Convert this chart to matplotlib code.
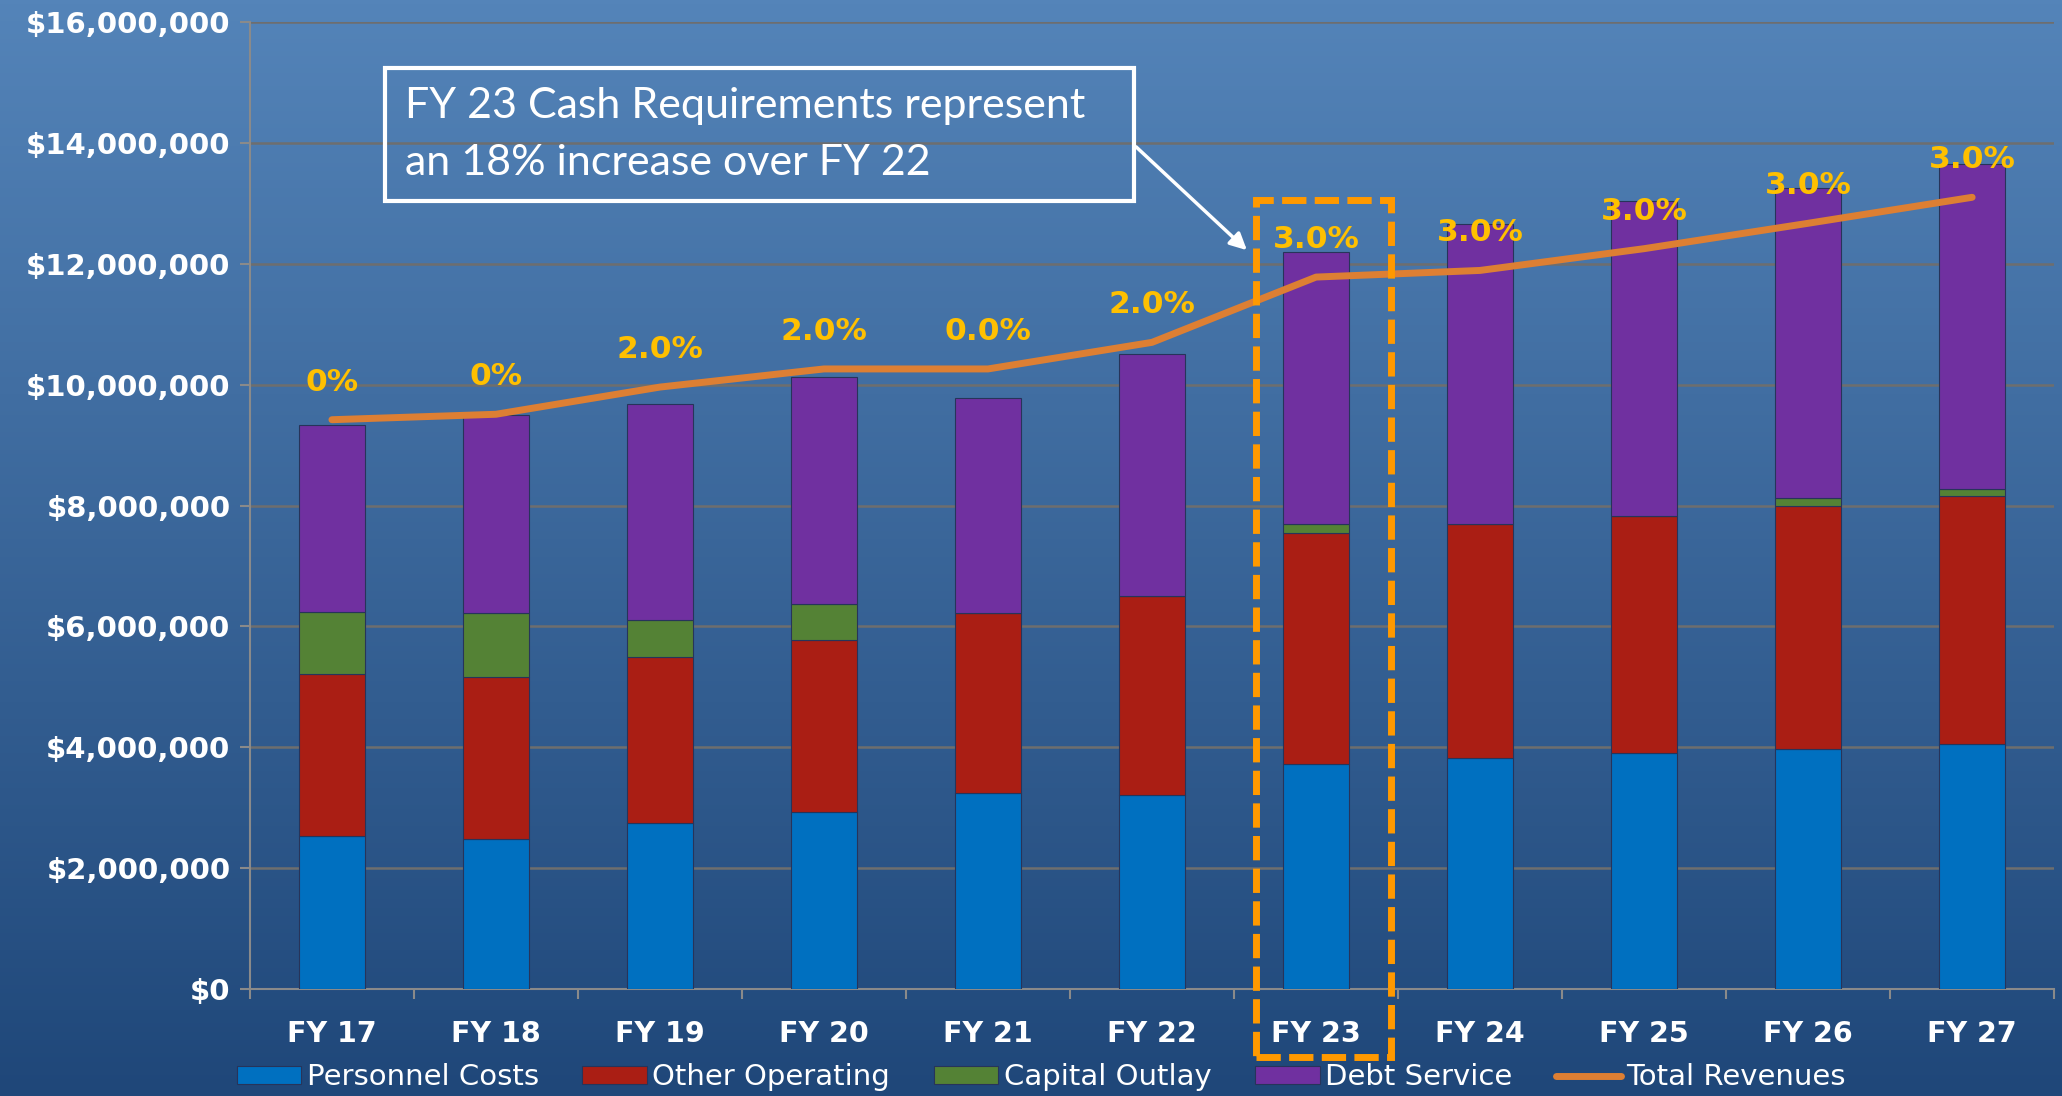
import matplotlib.pyplot as plt
import numpy as np
from matplotlib.patches import Rectangle
from matplotlib.ticker import FuncFormatter, MultipleLocator

# Data
years = ['FY 17', 'FY 18', 'FY 19', 'FY 20', 'FY 21', 'FY 22',
         'FY 23', 'FY 24', 'FY 25', 'FY 26', 'FY 27']
personnel = [2.53, 2.48, 2.74, 2.93, 3.25, 3.21, 3.73, 3.82, 3.91, 3.97, 4.05]
other_op = [2.69, 2.68, 2.76, 2.85, 2.97, 3.30, 3.81, 3.87, 3.92, 4.03, 4.10]
capital = [1.02, 1.06, 0.61, 0.59, 0.0, 0.0, 0.15, 0.0, 0.0, 0.13, 0.13]
debt = [3.09, 3.28, 3.57, 3.75, 3.56, 4.00, 4.50, 4.96, 5.21, 5.12, 5.37]
revenues = [9.42, 9.51, 9.96, 10.26, 10.26, 10.70, 11.78, 11.89, 12.25, 12.67, 13.10]
pct_labels = ['0%', '0%', '2.0%', '2.0%', '0.0%', '2.0%',
              '3.0%', '3.0%', '3.0%', '3.0%', '3.0%']

scale = 1e6
personnel = np.array(personnel) * scale
other_op = np.array(other_op) * scale
capital = np.array(capital) * scale
debt = np.array(debt) * scale
revenues = np.array(revenues) * scale

fig = plt.figure(figsize=(20.62, 10.96), dpi=100)

# gradient background
bg = fig.add_axes([0, 0, 1, 1], zorder=-10)
top = np.array([84, 132, 185]) / 255
bottom = np.array([31, 71, 121]) / 255
t = np.linspace(0, 1, 256)[:, None]
grad = top * (1 - t) + bottom * t
bg.imshow(grad[:, None, :], aspect='auto', extent=[0, 1, 0, 1])
bg.set_axis_off()

ax = fig.add_axes([0.1212, 0.0976, 0.875, 0.8823])
ax.patch.set_alpha(0)

x = np.arange(len(years))
w = 0.4
edge = dict(edgecolor='#27345a', linewidth=0.8, zorder=3)
b1 = ax.bar(x, personnel, w, color='#0070C0', label='Personnel Costs', **edge)
b2 = ax.bar(x, other_op, w, bottom=personnel, color='#AA1E14', label='Other Operating', **edge)
b3 = ax.bar(x, capital, w, bottom=personnel + other_op, color='#548235', label='Capital Outlay', **edge)
b4 = ax.bar(x, debt, w, bottom=personnel + other_op + capital, color='#7030A0', label='Debt Service', **edge)
ln, = ax.plot(x, revenues, color='#DD7F33', lw=5, solid_capstyle='round', zorder=4, label='Total Revenues')

for xi, yi, lab in zip(x, revenues, pct_labels):
    ax.annotate(lab, (xi, yi), xytext=(0, 27), textcoords='offset points',
                ha='center', va='center', color='#FFC000', fontsize=22.5,
                fontweight='bold', zorder=6)

ax.set_xlim(-0.5, len(years) - 0.5)
ax.set_ylim(0, 16e6)
ax.yaxis.set_major_locator(MultipleLocator(2e6))
ax.yaxis.set_major_formatter(FuncFormatter(lambda v, p: f'${v:,.0f}'))
ax.set_xticks(x)
ax.set_xticklabels(years)
ax.set_xticks(np.arange(-0.5, len(years)), minor=True)
ax.tick_params(axis='x', which='major', length=0, pad=22, labelcolor='white', labelsize=20.5)
ax.tick_params(axis='x', which='minor', length=7, color='#8a8a8a', width=1.5)
ax.tick_params(axis='y', length=7, color='#8a8a8a', width=1.5, pad=7,
               labelcolor='white', labelsize=21)
for lab in ax.get_xticklabels() + ax.get_yticklabels():
    lab.set_fontweight('bold')

ax.grid(axis='y', color='#6e6e6e', lw=1.8, zorder=0)
ax.set_axisbelow(True)
for s in ['top', 'right']:
    ax.spines[s].set_visible(False)
ax.spines['left'].set_color('#8a8a8a')
ax.spines['bottom'].set_color('#8a8a8a')
ax.spines['left'].set_linewidth(1.5)
ax.spines['bottom'].set_linewidth(1.5)

# dashed highlight around FY 23
ax.add_patch(Rectangle((5.634, -1.13e6), 0.823, 14.18e6, fill=False,
                       edgecolor='#FF9900', lw=5, linestyle=(0, (3.5, 1.2)),
                       clip_on=False, zorder=7))

# callout box
fig.patches.append(Rectangle((0.1867, 0.8166), 0.3633, 0.1214, transform=fig.transFigure,
                             fill=False, edgecolor='white', lw=3, zorder=8))
fig.text(0.1965, 0.877, 'FY 23 Cash Requirements represent\nan 18% increase over FY 22',
         color='white', fontsize=31, family='Lato', va='center', ha='left',
         linespacing=1.62, zorder=9)
ax.annotate('', xy=(0.6057, 0.770), xycoords='figure fraction',
            xytext=(0.55, 0.8677), textcoords='figure fraction',
            arrowprops=dict(arrowstyle='-|>', color='white', lw=2.5,
                            mutation_scale=25), zorder=9)

fig.legend([b1, b2, b3, b4, ln],
           ['Personnel Costs', 'Other Operating', 'Capital Outlay', 'Debt Service', 'Total Revenues'],
           loc='center', bbox_to_anchor=(0.505, 0.017), ncol=5, frameon=False,
           fontsize=21, labelcolor='white', handlelength=2.2, handleheight=0.6,
           handletextpad=0.2, columnspacing=1.5)

fig.savefig('out.png', dpi=100)
